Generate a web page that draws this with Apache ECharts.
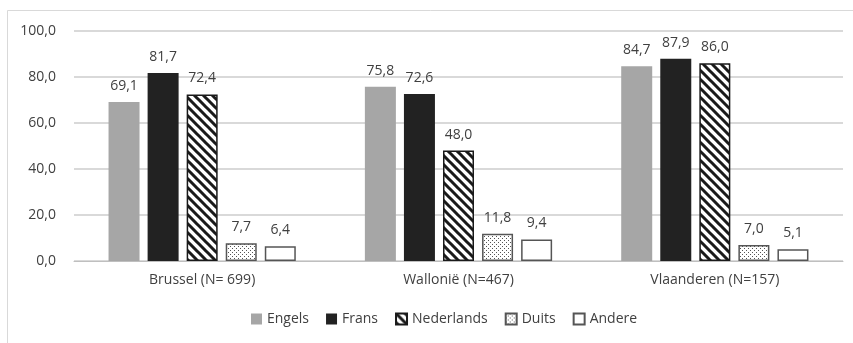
<!DOCTYPE html>
<html>
<head>
<meta charset="utf-8">
<script src="https://cdn.jsdelivr.net/npm/echarts@6/dist/echarts.min.js"></script>
<style>
html, body { margin: 0; padding: 0; background: #fff; }
#main { width: 853px; height: 343px; }
</style>
</head>
<body>
<div id="main"></div>
<script>
var categories = ['Brussel (N= 699)', 'Wallonië (N=467)', 'Vlaanderen (N=157)'];
var seriesNames = ['Engels', 'Frans', 'Nederlands', 'Duits', 'Andere'];
var engels = [69.1, 75.8, 84.7];
var frans = [81.7, 72.6, 87.9];
var nederlands = [72.4, 48.0, 86.0];
var duits = [7.7, 11.8, 7.0];
var andere = [6.4, 9.4, 5.1];
var yTicks = [0, 20, 40, 60, 80, 100];

var myChart = echarts.init(document.getElementById('main'));

// diagonal stripes (\) for Nederlands
function makeStripes() {
    var c = document.createElement('canvas');
    c.width = 9;
    c.height = 9;
    var ctx = c.getContext('2d');
    ctx.fillStyle = '#ffffff';
    ctx.fillRect(0, 0, 9, 9);
    ctx.strokeStyle = '#1a1a1a';
    ctx.lineWidth = 3;
    ctx.beginPath();
    ctx.moveTo(-4, -4); ctx.lineTo(13, 13);
    ctx.moveTo(-4, 5); ctx.lineTo(4, 13);
    ctx.moveTo(5, -4); ctx.lineTo(13, 4);
    ctx.stroke();
    return c;
}

// small dots for Duits
function makeDots() {
    var c = document.createElement('canvas');
    c.width = 4;
    c.height = 4;
    var ctx = c.getContext('2d');
    ctx.fillStyle = '#ffffff';
    ctx.fillRect(0, 0, 4, 4);
    ctx.fillStyle = '#555555';
    ctx.fillRect(0, 0, 1, 1);
    ctx.fillRect(2, 2, 1, 1);
    return c;
}

var fmt = function (p) {
    return p.value.toFixed(1).replace('.', ',');
};

var styles = [
    {color: '#a6a6a6'},
    {color: '#222222'},
    {color: {image: makeStripes(), repeat: 'repeat'}, borderColor: '#1a1a1a', borderWidth: 1.5},
    {color: {image: makeDots(), repeat: 'repeat'}, borderColor: '#555555', borderWidth: 1.5},
    {color: '#ffffff', borderColor: '#555555', borderWidth: 1.5}
];
var datas = [engels, frans, nederlands, duits, andere];

var series = seriesNames.map(function (name, i) {
    return {
        name: name,
        type: 'bar',
        data: datas[i],
        barWidth: 31,
        barGap: '26%',
        itemStyle: styles[i],
        label: {
            show: true,
            position: 'top',
            distance: 9,
            formatter: fmt,
            fontFamily: 'Open Sans',
            fontSize: 14,
            color: '#404040'
        }
    };
});

var option = {
    animation: false,
    backgroundColor: '#ffffff',
    graphic: [{
        type: 'rect',
        shape: {x: 7.5, y: 10.5, width: 900, height: 400},
        style: {fill: null, stroke: '#d9d9d9', lineWidth: 1}
    }],
    grid: {left: 74, right: 10, top: 31, bottom: 82},
    legend: {
        data: seriesNames,
        bottom: 12,
        left: 246,
        itemWidth: 11,
        itemHeight: 11,
        itemGap: 17,
        icon: 'rect',
        textStyle: {fontFamily: 'Open Sans', fontSize: 14, color: '#404040'}
    },
    xAxis: {
        type: 'category',
        data: categories,
        axisTick: {show: false},
        axisLine: {lineStyle: {color: '#bfbfbf', width: 1}},
        axisLabel: {fontFamily: 'Open Sans', fontSize: 14, color: '#404040', margin: 12}
    },
    yAxis: {
        type: 'value',
        min: yTicks[0],
        max: yTicks[yTicks.length - 1],
        interval: 20,
        axisLine: {show: false},
        axisTick: {show: false},
        splitLine: {lineStyle: {color: '#cccccc', width: 1.5}},
        axisLabel: {
            fontFamily: 'Open Sans',
            fontSize: 14,
            color: '#404040',
            margin: 18,
            formatter: function (v) { return v.toFixed(1).replace('.', ','); }
        }
    },
    series: series
};

myChart.setOption(option);
</script>
</body>
</html>
